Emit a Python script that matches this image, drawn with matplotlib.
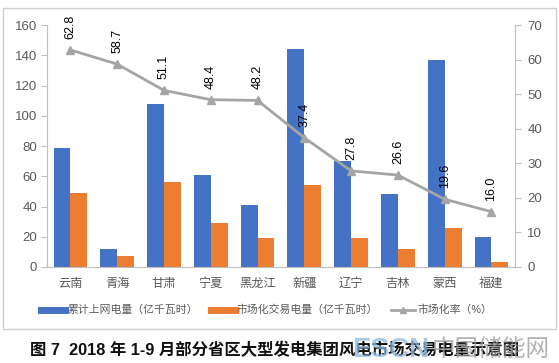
import matplotlib
matplotlib.use("Agg")
import matplotlib.pyplot as plt
from matplotlib.patches import Rectangle
from matplotlib.lines import Line2D

plt.rcParams['font.family'] = ['Liberation Sans', 'Noto Sans CJK SC', 'DejaVu Sans']

categories = ["云南", "青海", "甘肃", "宁夏", "黑龙江", "新疆", "辽宁", "吉林", "蒙西", "福建"]
grid_power = [79, 12, 108, 61, 41, 144, 70, 48, 137, 20]
market_power = [49, 7, 56, 29, 19, 54, 19, 12, 26, 3]
market_rate = [62.8, 58.7, 51.1, 48.4, 48.2, 37.4, 27.8, 26.6, 19.6, 16.0]
left_ticks = [0, 20, 40, 60, 80, 100, 120, 140, 160]
right_ticks = [0, 10, 20, 30, 40, 50, 60, 70]
legend_labels = ["累计上网电量（亿千瓦时）", "市场化交易电量（亿千瓦时）", "市场化率（%）"]
caption = "图 7  2018 年 1-9 月部分省区大型发电集团风电市场交易电量示意图"

blue = "#4472C4"
orange = "#ED7D31"
gray = "#A5A5A5"
txt = "#595959"
axc = "#BFBFBF"

fig = plt.figure(figsize=(5.59, 3.63), dpi=100)
fig.patches.append(Rectangle((0.005, 0.094), 0.99, 0.884, transform=fig.transFigure,
                             fill=False, edgecolor="#D0D0D0", linewidth=1.0))
ax = fig.add_axes([0.084, 0.2645, 0.837, 0.6665])
x = list(range(len(categories)))
w = 0.36
ax.bar([i - w / 2 for i in x], grid_power, width=w, color=blue, zorder=2)
ax.bar([i + w / 2 for i in x], market_power, width=w, color=orange, zorder=2)
ax.set_xlim(-0.5, len(categories) - 0.5)
ax.set_ylim(0, 160)
ax.set_yticks(left_ticks)
ax.set_xticks(x)
ax.set_xticklabels(categories, fontsize=8.8, color=txt)
ax.tick_params(axis='x', length=0, pad=8)
ax.tick_params(axis='y', length=4, pad=3, labelsize=9.5, labelcolor=txt, color=axc)
for s in ['top', 'right']:
    ax.spines[s].set_visible(False)
for s in ['left', 'bottom']:
    ax.spines[s].set_color(axc)

ax2 = ax.twinx()
ax2.plot(x, market_rate, color=gray, linewidth=2, marker='^', markersize=6, zorder=3)
ax2.set_ylim(0, 70)
ax2.set_yticks(right_ticks)
ax2.tick_params(axis='y', length=4, pad=5, labelsize=9.5, labelcolor=txt, color=axc)
for s in ['top', 'left', 'bottom']:
    ax2.spines[s].set_visible(False)
ax2.spines['right'].set_color(axc)
for xi, v in zip(x, market_rate):
    ax2.annotate(f"{v:.1f}", (xi, v), xytext=(0, 8), textcoords='offset points',
                 rotation=90, ha='center', va='bottom', fontsize=9, color='black')

handles = [Line2D([0], [0], color=blue, linewidth=5),
           Line2D([0], [0], color=orange, linewidth=5),
           Line2D([0], [0], color=gray, linewidth=2, marker='^', markersize=5)]
fig.legend(handles, legend_labels, loc='center', bbox_to_anchor=(0.477, 0.146), ncol=3,
           frameon=False, fontsize=7.8, labelcolor=txt, handlelength=2.2, handletextpad=0.2,
           columnspacing=1.2)

fig.text(275 / 559, 0.036, caption, fontsize=11.8, fontweight='bold', color="#111111",
         ha='center', va='center', zorder=1)
fig.text(352 / 559, 0.035, "ESCN", fontsize=20, fontweight='bold', color="#8FB8E0", alpha=0.75,
         ha='left', va='center', zorder=2)
fig.text(550 / 559, 0.035, "中国储能网", fontsize=17, color="#999999", alpha=0.75,
         ha='right', va='center', zorder=2)

fig.savefig("out.png", dpi=100)
